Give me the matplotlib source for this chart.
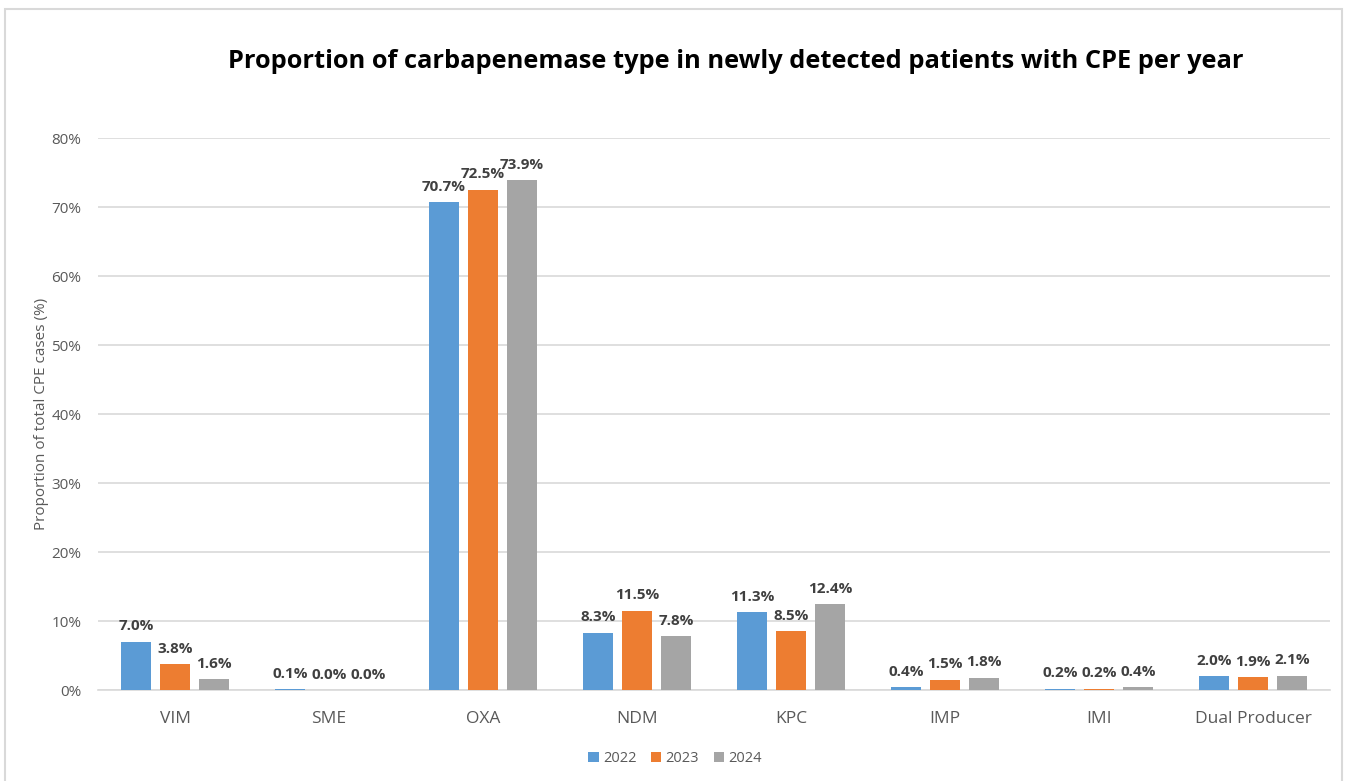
import numpy as np
import matplotlib
matplotlib.use('Agg')
import matplotlib.pyplot as plt
from matplotlib.patches import Rectangle

# data (percent)
categories = ['VIM', 'SME', 'OXA', 'NDM', 'KPC', 'IMP', 'IMI', 'Dual Producer']
years = ['2022', '2023', '2024']
vals_2022 = [7.0, 0.1, 70.7, 8.3, 11.3, 0.4, 0.2, 2.0]
vals_2023 = [3.8, 0.0, 72.5, 11.5, 8.5, 1.5, 0.2, 1.9]
vals_2024 = [1.6, 0.0, 73.9, 7.8, 12.4, 1.8, 0.4, 2.1]
colors = ['#5B9BD5', '#ED7D31', '#A5A5A5']

plt.rcParams['font.family'] = ['Open Sans', 'DejaVu Sans']

fig = plt.figure(figsize=(13.5, 7.81), dpi=100)
ax = fig.add_axes([0.0726, 0.1165, 0.9126, 0.7068])

x = np.arange(len(categories))
step = 0.253
width = 0.2
series = [vals_2022, vals_2023, vals_2024]
for i, (vals, c, yr) in enumerate(zip(series, colors, years)):
    pos = x + (i - 1) * step
    ax.bar(pos, vals, width=width, color=c, label=yr, zorder=3)
    for p, v in zip(pos, vals):
        ax.text(p, v + 1.2, '%.1f%%' % v, ha='center', va='bottom',
                fontsize=11, fontweight='bold', color='#404040', zorder=4)

ax.set_xlim(-0.5, len(categories) - 0.5)
ax.set_ylim(0, 80)
ax.set_yticks(np.arange(0, 81, 10))
ax.set_yticklabels(['%d%%' % t for t in range(0, 81, 10)])
ax.set_xticks(x)
ax.set_xticklabels(categories)
ax.tick_params(axis='y', length=0, pad=12, labelsize=11, labelcolor='#595959')
ax.tick_params(axis='x', length=0, pad=15, labelsize=12.5, labelcolor='#595959')
ax.grid(axis='y', color='#D9D9D9', linewidth=1.2, zorder=0)
for s in ['top', 'right', 'left']:
    ax.spines[s].set_visible(False)
ax.spines['bottom'].set_color('#D9D9D9')
ax.spines['bottom'].set_linewidth(1.2)

ax.set_ylabel('Proportion of total CPE cases (%)', fontsize=11, color='#595959', labelpad=2)

fig.text(0.545, 0.921, 'Proportion of carbapenemase type in newly detected patients with CPE per year',
         ha='center', va='center', fontsize=18.3, fontweight='bold', color='black')

fig.legend(loc='center', bbox_to_anchor=(0.5, 0.029), ncol=3, frameon=False,
           fontsize=10.5, handlelength=0.7, handleheight=0.7, handletextpad=0.3,
           columnspacing=1.0, labelcolor='#595959')

# light frame around the chart like the Excel chart area
fig.patches.append(Rectangle((0.004, -0.01), 0.99, 0.999, transform=fig.transFigure,
                             fill=False, edgecolor='#D9D9D9', linewidth=1.5))

fig.savefig('out.png', dpi=100, facecolor='white')
